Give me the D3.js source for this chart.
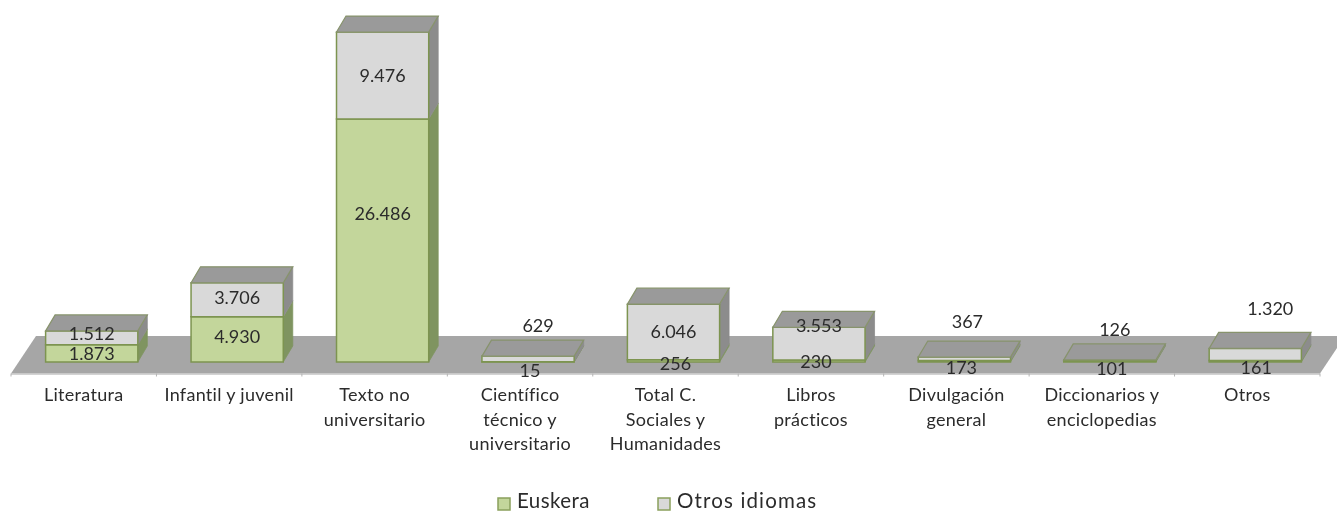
<!DOCTYPE html>
<html>
  <head>
    <meta charset="utf-8" />
    <title>Euskera / Otros idiomas</title>
    <style>
      html, body { margin: 0; padding: 0; background: #fff; overflow: hidden; }
      svg { filter: blur(0.45px); }
      text { font-family: Lato, "Open Sans", sans-serif; fill: #2b2b2b; }
    </style>
  </head>
  <body>
    <div id="chart"></div>
    <script src="https://d3js.org/d3.v7.min.js"></script>
    <script>
      // data
      const categories = [
        "Literatura",
        "Infantil y juvenil",
        "Texto no\nuniversitario",
        "Científico\ntécnico y\nuniversitario",
        "Total C.\nSociales y\nHumanidades",
        "Libros\nprácticos",
        "Divulgación\ngeneral",
        "Diccionarios y\nenciclopedias",
        "Otros",
      ];
      const euskera = [1873, 4930, 26486, 15, 256, 230, 173, 101, 161];
      const otros = [1512, 3706, 9476, 629, 6046, 3553, 367, 126, 1320];
      const seriesNames = ["Euskera", "Otros idiomas"];

      // labels were placed by hand in the original, so these are nudges (px) from segment centre
      const euskeraNudge = [
        [0, 0], [0, -3], [0, -27], [2, 8], [2, 2], [-3, 0], [-3, 6], [2, 6], [1, 6],
      ];
      const otrosNudge = [
        [0, -5], [0, -3], [0, 0], [10, -34], [0, -1], [0, -19], [3, -38], [5, -31], [15, -46],
      ];

      const width = 1337,
        height = 512,
        depthX = 9.5,
        depthY = 16,
        baseY = 362,
        floorFront = 373.5,
        floorBack = 336,
        floorSlant = 25;

      const svg = d3
        .select("#chart")
        .append("svg")
        .attr("width", width)
        .attr("height", height);

      const x = d3
        .scaleBand()
        .domain(categories)
        .range([11, 1320])
        .paddingInner(0.366)
        .paddingOuter(0.183);

      const y = d3
        .scaleLinear()
        .domain([0, d3.max(categories, (c, i) => euskera[i] + otros[i])])
        .range([baseY, 32]);

      // bars sit a little right of their band, the labels stay on the band centre
      const barShift = 8;

      // floor
      svg
        .append("path")
        .attr("fill", "#a6a6a6")
        .attr(
          "d",
          d3.line()([
            [x.range()[0], floorFront],
            [x.range()[1], floorFront],
            [x.range()[1] + floorSlant, floorBack],
            [x.range()[0] + floorSlant, floorBack],
          ])
        );
      svg
        .append("line")
        .attr("x1", x.range()[0])
        .attr("x2", x.range()[1])
        .attr("y1", floorFront + 0.5)
        .attr("y2", floorFront + 0.5)
        .attr("stroke", "#c4c4c4")
        .attr("stroke-width", 1.5);

      // ticks between the categories
      svg
        .selectAll(".tick-mark")
        .data(d3.range(categories.length + 1))
        .enter()
        .append("line")
        .attr("class", "tick-mark")
        .attr("x1", (i) => x.range()[0] + (i * (x.range()[1] - x.range()[0])) / categories.length)
        .attr("x2", (i) => x.range()[0] + (i * (x.range()[1] - x.range()[0])) / categories.length)
        .attr("y1", floorFront)
        .attr("y2", floorFront + 3)
        .attr("stroke", "#b4b4b4");

      const stacked = categories.map((c, i) => [
        { key: "eus", cat: c, i: i, y0: 0, y1: euskera[i] },
        { key: "otr", cat: c, i: i, y0: euskera[i], y1: euskera[i] + otros[i] },
      ]);

      const colors = {
        eus: { front: "#c3d69b", side: "#7f9460", stroke: "#7d9450" },
        otr: { front: "#d9d9d9", side: "#8c8c8c", stroke: "#7d9450" },
      };

      function frontPath(d) {
        const l = x(d.cat) + barShift,
          r = l + x.bandwidth();
        return d3.line()([[l, y(d.y0)], [r, y(d.y0)], [r, y(d.y1)], [l, y(d.y1)]]) + "Z";
      }
      function sidePath(d) {
        const r = x(d.cat) + barShift + x.bandwidth();
        return (
          d3.line()([
            [r, y(d.y0)],
            [r + depthX, y(d.y0) - depthY],
            [r + depthX, y(d.y1) - depthY],
            [r, y(d.y1)],
          ]) + "Z"
        );
      }
      function topPath(d) {
        const l = x(d.cat) + barShift,
          r = l + x.bandwidth();
        return (
          d3.line()([
            [l, y(d.y1)],
            [r, y(d.y1)],
            [r + depthX, y(d.y1) - depthY],
            [l + depthX, y(d.y1) - depthY],
          ]) + "Z"
        );
      }

      const barGroups = svg
        .selectAll(".bar")
        .data(stacked)
        .enter()
        .append("g")
        .attr("class", "bar");

      barGroups
        .selectAll(".side")
        .data((d) => d)
        .enter()
        .append("path")
        .attr("class", "side")
        .attr("d", sidePath)
        .attr("fill", (d) => colors[d.key].side)
        .attr("stroke", (d) => colors[d.key].side)
        .attr("stroke-width", 0.75);

      barGroups
        .selectAll(".front")
        .data((d) => d)
        .enter()
        .append("path")
        .attr("class", "front")
        .attr("d", frontPath)
        .attr("fill", (d) => colors[d.key].front)
        .attr("stroke", (d) => colors[d.key].stroke)
        .attr("stroke-width", 1.5);

      barGroups
        .append("path")
        .attr("d", (d) => topPath(d[1]))
        .attr("fill", "#9a9a9a")
        .attr("stroke", "#87936c")
        .attr("stroke-width", 1.25);

      // value labels
      function addLabels(values, nudges, start) {
        svg
          .selectAll(".lab-" + start)
          .data(values)
          .enter()
          .append("text")
          .attr("class", "lab-" + start)
          .attr("text-anchor", "middle")
          .attr("dominant-baseline", "central")
          .attr("font-size", 18)
          .attr("x", (d, i) => x(categories[i]) + barShift + x.bandwidth() / 2 + nudges[i][0])
          .attr("y", (d, i) => {
            const y0 = start === "eus" ? 0 : euskera[i];
            return y(y0 + d / 2) + nudges[i][1];
          })
          .text((d) => d3.format(",")(d).replace(",", "."));
      }
      addLabels(euskera, euskeraNudge, "eus");
      addLabels(otros, otrosNudge, "otr");

      // category labels
      const axis = svg
        .append("g")
        .attr("transform", "translate(0,374)")
        .call(d3.axisBottom(x).tickSize(0).tickFormat(""));
      axis.select(".domain").remove();
      axis.attr("font-family", null).attr("font-size", null);

      axis.selectAll(".tick").each(function (d) {
        const t = d3
          .select(this)
          .select("text")
          .attr("font-size", 18)
          .attr("letter-spacing", 0.3)
          .attr("y", 0)
          .attr("dy", null)
          .attr("fill", null);
        t.text(null);
        d.split("\n").forEach((line, k) => {
          t.append("tspan")
            .attr("x", 0)
            .attr("y", 27 + k * 24.5)
            .text(line);
        });
      });

      // legend
      const legendX = d3.scaleOrdinal().domain(seriesNames).range([497, 657]);
      const legendSpacing = [0.45, 1.15];
      const legend = svg
        .selectAll(".legend")
        .data(seriesNames)
        .enter()
        .append("g")
        .attr("class", "legend")
        .attr("transform", (d) => "translate(" + legendX(d) + ",497)");
      legend
        .append("rect")
        .attr("x", 1)
        .attr("y", 1)
        .attr("width", 12)
        .attr("height", 12)
        .attr("fill", (d, i) => (i === 0 ? colors.eus.front : colors.otr.front))
        .attr("stroke", "#8aa05c")
        .attr("stroke-width", 1.5);
      legend
        .append("text")
        .attr("x", 20)
        .attr("y", 10.5)
        .attr("font-size", 20.5)
        .attr("letter-spacing", (d, i) => legendSpacing[i])
        .text((d) => d);
    </script>
  </body>
</html>
